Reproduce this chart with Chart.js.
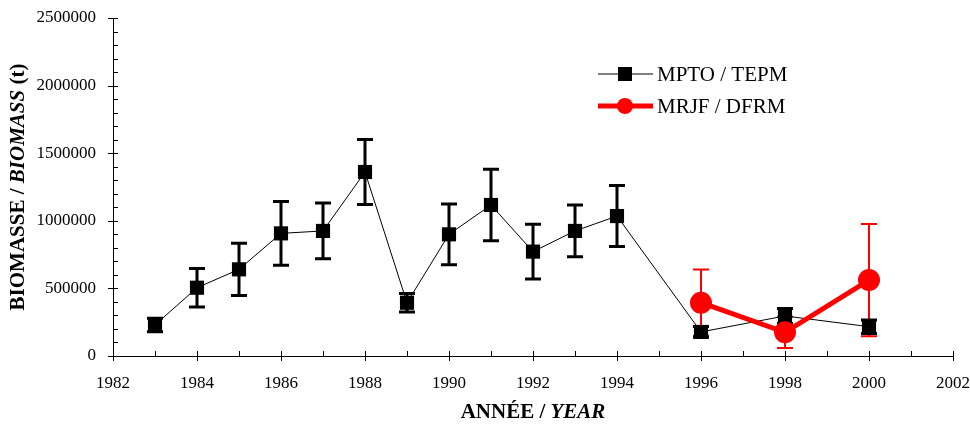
<!DOCTYPE html>
<html>
<head>
<meta charset="utf-8">
<script src="https://cdn.jsdelivr.net/npm/chart.js@4/dist/chart.umd.min.js"></script>
<style>
  html, body { margin: 0; padding: 0; background: #fff; }
  #wrap { width: 970px; height: 428px; position: relative; }
</style>
</head>
<body>
<div id="wrap"><canvas id="biomassChart" width="970" height="428"></canvas></div>
<script>
// Survey years and biomass estimates (t) with +/- error
const mptoYears = [1983, 1984, 1985, 1986, 1987, 1988, 1989, 1990, 1991, 1992, 1993, 1994, 1996, 1998, 2000];
const mptoBiomass = [230000, 505000, 641000, 907000, 925000, 1361000, 394000, 900000, 1117000, 772000, 925000, 1035000, 178000, 296000, 217000];
const mptoError = [50000, 143000, 193000, 235000, 206000, 240000, 68000, 225000, 264000, 203000, 191000, 226000, 40000, 55000, 50000];

const mrjfYears = [1996, 1998, 2000];
const mrjfBiomass = [394000, 175000, 562000];
const mrjfError = [245000, 116000, 415000];

const seriesLabels = ['MPTO / TEPM', 'MRJF / DFRM'];
const yearTicks = { min: 1982, max: 2002, step: 2 };
const biomassTicks = { min: 0, max: 2500000, step: 500000 };

const FONT = '"Liberation Serif", "Times New Roman", serif';

function toPoints(xs, ys) {
  return xs.map((x, i) => ({ x: x, y: ys[i] }));
}

// Error bars drawn through the chart scales
const errorBarPlugin = {
  id: 'errorBars',
  beforeDatasetsDraw(chart) {
    const ctx = chart.ctx;
    const xs = chart.scales.x, ys = chart.scales.y;
    // red first, black on top
    [1, 0].forEach(idx => {
      const ds = chart.data.datasets[idx];
      ctx.save();
      ctx.strokeStyle = ds.borderColor;
      ctx.lineWidth = ds.errorWidth;
      ds.data.forEach((p, i) => {
        const px = xs.getPixelForValue(p.x);
        const top = ys.getPixelForValue(p.y + ds.errors[i]);
        const bot = ys.getPixelForValue(p.y - ds.errors[i]);
        ctx.beginPath();
        ctx.moveTo(px, top); ctx.lineTo(px, bot);
        ctx.moveTo(px - 8, top); ctx.lineTo(px + 8, top);
        ctx.moveTo(px - 8, bot); ctx.lineTo(px + 8, bot);
        ctx.stroke();
      });
      ctx.restore();
    });
  }
};

// Tick marks, titles and legend in the original's style
const decorPlugin = {
  id: 'decor',
  afterDraw(chart) {
    const ctx = chart.ctx;
    const xs = chart.scales.x, ys = chart.scales.y;
    const area = chart.chartArea;
    ctx.save();
    ctx.strokeStyle = '#000';
    ctx.lineWidth = 1;
    ctx.beginPath();
    for (let v = yearTicks.min; v <= yearTicks.max; v += 1) {
      const px = Math.round(xs.getPixelForValue(v)) + 0.5;
      const major = (v - yearTicks.min) % yearTicks.step === 0;
      ctx.moveTo(px, area.bottom - 5);
      ctx.lineTo(px, major ? area.bottom + 5 : area.bottom);
    }
    for (let v = biomassTicks.min; v <= biomassTicks.max; v += 100000) {
      const py = Math.round(ys.getPixelForValue(v)) + 0.5;
      const major = v % biomassTicks.step === 0;
      ctx.moveTo(major ? area.left - 5 : area.left, py);
      ctx.lineTo(area.left + 5, py);
    }
    ctx.stroke();

    // axis titles (bold with italic english part)
    ctx.fillStyle = '#000';
    ctx.textBaseline = 'middle';
    function mixed(parts, cx, cy) {
      let total = 0;
      parts.forEach(p => { ctx.font = p[1] + ' 21px ' + FONT; total += ctx.measureText(p[0]).width; });
      let x = cx - total / 2;
      ctx.textAlign = 'left';
      parts.forEach(p => {
        ctx.font = p[1] + ' 21px ' + FONT;
        ctx.fillText(p[0], x, cy);
        x += ctx.measureText(p[0]).width;
      });
    }
    mixed([['ANNÉE / ', 'bold'], ['YEAR', 'italic bold']], (area.left + area.right) / 2, 413);
    ctx.save();
    ctx.translate(19, (area.top + area.bottom) / 2);
    ctx.rotate(-Math.PI / 2);
    mixed([['BIOMASSE / ', 'bold'], ['BIOMASS', 'italic bold'], [' (t)', 'bold']], 0, 0);
    ctx.restore();

    // legend
    const rows = [74, 106];
    chart.data.datasets.forEach((ds, i) => {
      const y = rows[i];
      ctx.strokeStyle = ds.borderColor;
      ctx.lineWidth = ds.borderWidth;
      ctx.beginPath();
      ctx.moveTo(598, y); ctx.lineTo(653, y);
      ctx.stroke();
      ctx.fillStyle = ds.backgroundColor;
      if (ds.pointStyle === 'rect') {
        ctx.fillRect(618, y - 7, 14, 14);
      } else {
        ctx.beginPath();
        ctx.arc(625, y, 8, 0, Math.PI * 2);
        ctx.fill();
      }
      ctx.fillStyle = '#000';
      ctx.font = '21px ' + FONT;
      ctx.textAlign = 'left';
      ctx.fillText(seriesLabels[i], 657, y + 1);
    });
    ctx.restore();
  }
};

const chart = new Chart(document.getElementById('biomassChart'), {
  type: 'line',
  data: {
    datasets: [
      {
        label: seriesLabels[0],
        data: toPoints(mptoYears, mptoBiomass),
        errors: mptoError,
        errorWidth: 3,
        borderColor: '#000000',
        backgroundColor: '#000000',
        borderWidth: 1,
        pointStyle: 'rect',
        pointRadius: 10,
        pointBorderWidth: 0,
        tension: 0,
        order: 1
      },
      {
        label: seriesLabels[1],
        data: toPoints(mrjfYears, mrjfBiomass),
        errors: mrjfError,
        errorWidth: 2,
        borderColor: '#ff0000',
        backgroundColor: '#ff0000',
        borderWidth: 5,
        pointStyle: 'circle',
        pointRadius: 11,
        pointBorderWidth: 0,
        tension: 0,
        order: 0
      }
    ]
  },
  options: {
    responsive: false,
    animation: false,
    events: [],
    layout: { padding: { top: 18, right: 17, left: 0, bottom: 0 } },
    plugins: { legend: { display: false }, tooltip: { enabled: false } },
    scales: {
      x: {
        type: 'linear',
        min: yearTicks.min,
        max: yearTicks.max,
        afterFit: s => { s.height = 72; s.paddingLeft = 0; s.paddingRight = 0; },
        ticks: { stepSize: yearTicks.step, color: '#000', padding: 9, font: { family: FONT, size: 17 }, callback: v => String(v) },
        grid: { display: false },
        border: { display: true, color: '#000', width: 1 }
      },
      y: {
        min: biomassTicks.min,
        max: biomassTicks.max,
        afterFit: s => { s.width = 113; s.paddingTop = 0; s.paddingBottom = 0; },
        ticks: { stepSize: biomassTicks.step, color: '#000', padding: 9, font: { family: FONT, size: 17 }, callback: v => String(v) },
        grid: { display: false },
        border: { display: true, color: '#000', width: 1 }
      }
    }
  },
  plugins: [errorBarPlugin, decorPlugin]
});
</script>
</body>
</html>
